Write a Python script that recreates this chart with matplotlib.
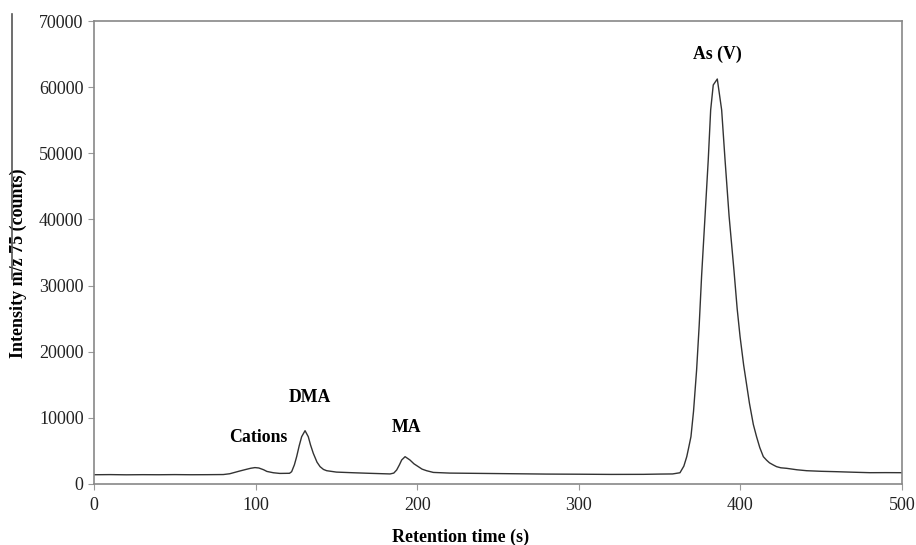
import matplotlib.pyplot as plt
from matplotlib.lines import Line2D

# retention time (s) and intensity (counts)
time = [0, 10, 20, 30, 40, 50, 60, 70, 80, 84, 87, 90, 94, 97, 99.6, 102, 105, 107,
        111, 115, 121, 122.3, 124, 125.4, 127, 128.5, 130.6, 132.6, 134, 135.7, 138,
        139.9, 142, 144, 150, 160.5, 170, 183.2, 185.5, 187.3, 189, 190.4, 192.5,
        195.5, 198, 200.7, 203, 205.8, 210, 220, 240, 260, 280, 300, 320, 340, 350,
        358, 362.6, 365, 366.8, 368, 369.4, 371, 372.9, 374.5, 376, 378, 380.1, 381.6,
        383.2, 385.7, 388.4, 390.5, 393, 396, 398, 399.8, 402, 405.6, 408, 410, 412,
        414.2, 416.2, 418, 420.4, 422.4, 425, 428.6, 435, 441, 450, 459.6, 470, 480.2,
        490, 498.8, 500]
intensity = [1400, 1420, 1390, 1410, 1400, 1420, 1400, 1410, 1430, 1550, 1750, 1950,
             2200, 2380, 2480, 2420, 2150, 1900, 1700, 1600, 1620, 1860, 2900, 4130,
             5800, 7150, 8060, 7150, 5900, 4640, 3300, 2620, 2200, 2010, 1800, 1700,
             1620, 1520, 1650, 2120, 2900, 3630, 4130, 3630, 3050, 2620, 2250, 2010,
             1750, 1650, 1600, 1550, 1500, 1480, 1450, 1460, 1500, 1520, 1700, 2700,
             4130, 5500, 7150, 11000, 17240, 24000, 31500, 40000, 48990, 56550, 60330,
             61230, 56550, 48990, 40500, 32350, 26500, 22270, 18000, 12200, 9000,
             7150, 5500, 4130, 3600, 3200, 2870, 2620, 2450, 2370, 2150, 2010, 1920,
             1860, 1780, 1710, 1720, 1710, 1700]

peak_names = ['Cations', 'DMA', 'MA', 'As (V)']
label_x = [101.5, 133.7, 193.7, 385.5]
label_y = [7100, 13150, 8470, 65000]

plt.rcParams['font.family'] = ['Liberation Serif', 'DejaVu Serif']

fig = plt.figure(figsize=(9.16, 5.45), dpi=100)
ax = fig.add_axes([94 / 916, 61 / 545, 808 / 916, 463 / 545])

ax.plot(time, intensity, color='#333333', linewidth=1.0)

for name, x, y in zip(peak_names, label_x, label_y):
    ax.text(x, y, name, ha='center', va='center', fontsize=12.8, fontweight='bold')

ax.set_xlim(0, 500)
ax.set_ylim(0, 70000)
ax.set_xticks(range(0, 501, 100))
ax.set_yticks(range(0, 70001, 10000))
ax.tick_params(direction='out', length=4, color='#999999', labelsize=13,
               labelcolor='#222222')
ax.tick_params(axis='x', pad=5)
for s in ax.spines.values():
    s.set_color('#888888')
    s.set_linewidth(1.2)

ax.set_xlabel('Retention time (s)', fontsize=13, fontweight='bold')
ax.xaxis.set_label_coords(0.454, -0.097)
ax.set_ylabel('Intensity m/z 75 (counts)', fontsize=13, fontweight='bold')
ax.yaxis.set_label_coords(-0.083, 0.477)

# stray scan line at the left edge of the original figure
fig.add_artist(Line2D([11.5 / 916, 11.5 / 916], [1 - 14 / 545, 1 - 279 / 545],
                      color='#555555', linewidth=1.2))

fig.savefig('out.png', dpi=100)
